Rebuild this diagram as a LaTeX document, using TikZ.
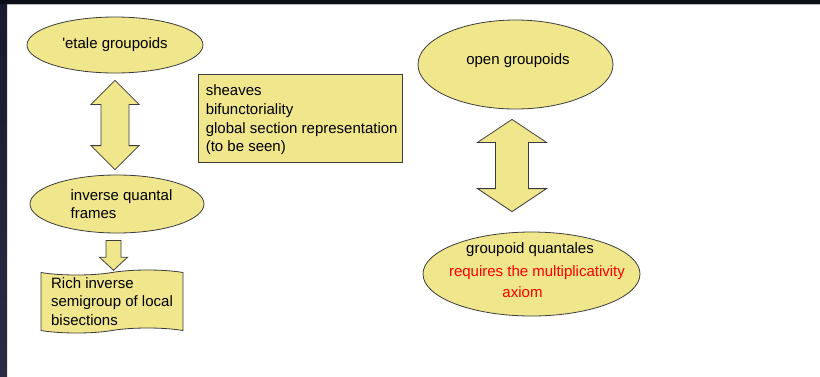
\documentclass[tikz,border=0pt]{standalone}
\usepackage{fontspec}
\setmainfont{Liberation Sans}
\usetikzlibrary{shapes.geometric,shapes.symbols,calc}
\definecolor{khaki}{HTML}{F0E68C}
\definecolor{edge}{HTML}{3C3C3C}
\definecolor{frametop}{HTML}{0B0D17}
\definecolor{framesideA}{HTML}{181A2E}
\definecolor{framesideB}{HTML}{2C2B44}
\definecolor{alert}{HTML}{FF0000}

% block double arrow between two tips on one vertical line:
% #1 top tip, #2 bottom tip, #3 head half-width, #4 shaft half-width, #5 head length
\newcommand\dblblock[5]{%
  \draw[blk] (#1) -- ($(#1)+(#3,#5)$) -- ($(#1)+(#4,#5)$) -- ($(#2)+(#4,-#5)$)
    -- ($(#2)+(#3,-#5)$) -- (#2) -- ($(#2)+(-#3,-#5)$) -- ($(#2)+(-#4,-#5)$)
    -- ($(#1)+(-#4,#5)$) -- ($(#1)+(-#3,#5)$) -- cycle;}

\begin{document}
\begin{tikzpicture}[x=1pt,y=-1pt,
  every node/.style={font=\fontsize{15}{18.7}\selectfont, inner sep=0pt},
  oval/.style={ellipse, draw=edge, fill=khaki, line width=0.8pt},
  blk/.style={draw=edge, fill=khaki, line width=0.8pt, line join=miter},
  note/.style={draw=edge, fill=khaki, line width=0.8pt, align=left},
  txt/.style={align=left, text=black},
]
\useasboundingbox (0,0) rectangle (820,376);

% window frame
\fill[white] (0,0) rectangle (820,376);
\fill[frametop] (0,0) rectangle (820,4);
\fill[gray!55] (0,4) rectangle (820,5);
\shade[top color=framesideA, bottom color=framesideB] (0,4) rectangle (7,376);

% left column
\node[oval, minimum width=176, minimum height=56] (etale) at (115,45) {\textquotesingle etale groupoids};
\node[oval, minimum width=174, minimum height=58] (iqf) at (117,204) {};
\node[txt] (iqftext) at (121.5,204) {inverse quantal\\frames};
\node[note, tape, minimum width=142, minimum height=63, tape bend height=5pt] (rib) at (112,301.5)
  {Rich inverse\\semigroup of local\\bisections};

% properties box
\node[note, minimum width=204, minimum height=88] (props) at (300,118) {};
\node[txt, anchor=west] (propstext) at ($(props.west)+(8,2)$)
  {sheaves\\bifunctoriality\\global section representation\\(to be seen)};

% right column
\node[oval, minimum width=195, minimum height=89] (og) at (515.5,64.5) {};
\node (ogtext) at (518,61) {open groupoids};
\node[oval, minimum width=217, minimum height=84] (gq) at (531.5,274) {};
\node (gqtext) at (530,250) {groupoid quantales};
\node[text=alert] (gqnote) at (537,273) {requires the multiplicativity};
\node[text=alert] (gqnote2) at (522.5,292) {axiom};

% connectors
\coordinate (Lt) at ($(etale.south)+(0,7)$);
\coordinate (Lb) at ($(Lt |- iqf.north)+(0,-5)$);
\dblblock{Lt}{Lb}{24}{14}{24}

\coordinate (Rt) at ($(og.south)+(-3.5,10)$);
\coordinate (Rb) at ($(Rt |- gq.north)+(0,-20)$);
\dblblock{Rt}{Rb}{34.5}{16.5}{23}

\coordinate (Dt) at ($(iqf.south)+(-3.5,7)$);
\coordinate (Db) at ($(Dt |- rib.north)+(0,-2)$);
\draw[blk] ($(Dt)+(-7.5,0)$) -- ($(Dt)+(7.5,0)$) -- ($(Db)+(7.5,-13)$) -- ($(Db)+(14,-13)$)
  -- (Db) -- ($(Db)+(-14,-13)$) -- ($(Db)+(-7.5,-13)$) -- cycle;
\end{tikzpicture}
\end{document}
